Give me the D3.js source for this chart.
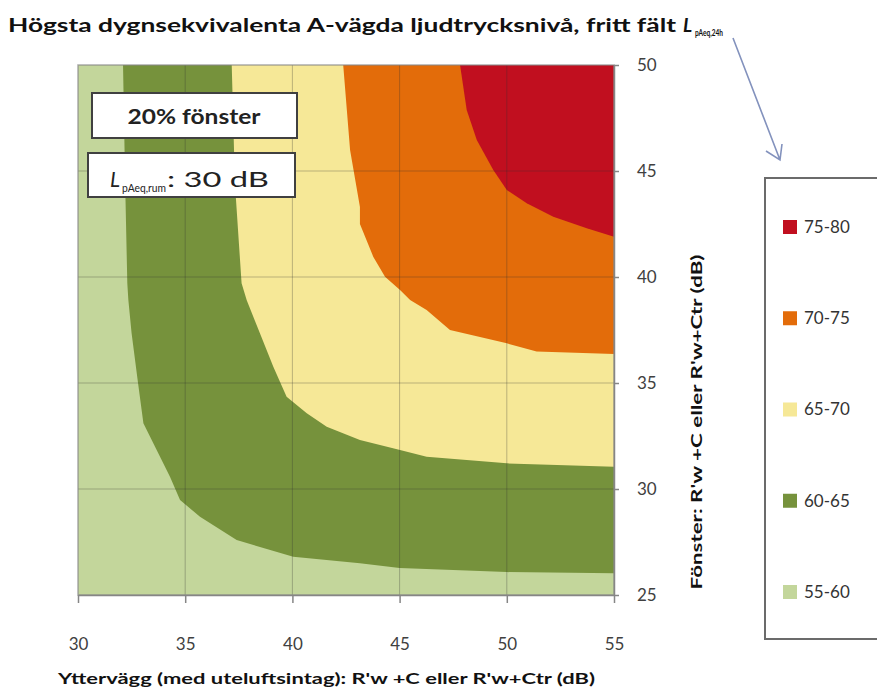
<!DOCTYPE html>
<html><head><meta charset="utf-8">
<script src="https://cdn.jsdelivr.net/npm/d3@7"></script>
<style>body{margin:0;background:#fff}svg{display:block}</style>
</head><body>
<svg id="chart" width="877" height="693"></svg>
<script>
// ---- data ----
const xTicks = [30, 35, 40, 45, 50, 55];
const yTicks = [25, 30, 35, 40, 45, 50];
const legendLabels = ["75-80", "70-75", "65-70", "60-65", "55-60"];
const legendColors = ["#c10f1f", "#e36c0a", "#f6e897", "#76923c", "#c3d69b"];
const baseColor = "#c3d69b"; // 55-60
// boundary of each level band: [x (yttervägg dB), y (fönster dB)]
const contour60 = [[32.1,50],[32.2,44.4],[32.3,39.7],[32.35,38.9],[32.5,37.35],[32.8,35],[33.05,33.1],[33.67,31.84],[34.29,30.58],[34.76,29.48],[35.69,28.69],[37.4,27.59],[40.04,26.81],[43.15,26.5],[45,26.27],[50,26.08],[55,26.03]];
const contour65 = [[37.17,50],[37.32,44.4],[37.63,39.7],[37.87,38.9],[38.49,37.34],[39.11,35.77],[39.73,34.35],[40.67,33.57],[41.6,32.94],[43.15,32.31],[45.02,31.84],[46.26,31.52],[50,31.21],[55,31.05]];
const contour70 = [[42.37,50],[42.69,45.99],[43.15,43.3],[43.15,42.5],[43.77,40.96],[44.32,40.01],[45.02,39.39],[45.49,38.92],[46.26,38.44],[47.35,37.5],[50,36.87],[51.39,36.48],[55,36.37]];
const contour75 = [[47.82,50],[48.13,47.88],[48.6,46.46],[49.37,45.05],[50,44.1],[50.93,43.48],[52.17,42.84],[53.73,42.3],[55,41.9]];
const bands = [
  {label:"60-65", color:"#76923c", pts:contour60},
  {label:"65-70", color:"#f6e897", pts:contour65},
  {label:"70-75", color:"#e36c0a", pts:contour70},
  {label:"75-80", color:"#c10f1f", pts:contour75}
];
const corner = [55, 50];

// ---- drawing ----
const svg = d3.select("#chart");
const font = "Lato, 'Open Sans', sans-serif";
const x = d3.scaleLinear().domain([30, 55]).range([78, 614]);
const y = d3.scaleLinear().domain([25, 50]).range([595, 65]);

// background band
svg.append("rect").attr("x", x(30)).attr("y", y(50))
  .attr("width", x(55) - x(30)).attr("height", y(25) - y(50)).attr("fill", baseColor);

const line = d3.line().x(d => x(d[0])).y(d => y(d[1]));
svg.append("g").selectAll("path").data(bands).join("path")
  .attr("d", d => line(d.pts.concat([corner])) + "Z")
  .attr("fill", d => d.color);

// gridlines
const grid = svg.append("g").attr("stroke", "#333").attr("stroke-opacity", 0.3).attr("stroke-width", 1);
grid.selectAll("line.v").data(xTicks.slice(1, -1)).join("line")
  .attr("x1", d => x(d)).attr("x2", d => x(d)).attr("y1", y(50)).attr("y2", y(25));
grid.selectAll("line.h").data(yTicks.slice(1, -1)).join("line")
  .attr("y1", d => y(d)).attr("y2", d => y(d)).attr("x1", x(30)).attr("x2", x(55));
svg.append("rect").attr("x", x(30)).attr("y", y(50))
  .attr("width", x(55) - x(30)).attr("height", y(25) - y(50))
  .attr("fill", "none").attr("stroke", "#888").attr("stroke-opacity", 0.7).attr("stroke-width", 1.5);

// axes
const xAxis = svg.append("g").attr("transform", `translate(0,${y(25)})`)
  .call(d3.axisBottom(x).tickValues(xTicks).tickSize(8).tickPadding(35).tickSizeOuter(0));
const yAxis = svg.append("g").attr("transform", `translate(${x(55)},0)`)
  .call(d3.axisRight(y).tickValues(yTicks).tickSize(5).tickPadding(18).tickSizeOuter(0));
[xAxis, yAxis].forEach(a => {
  a.select(".domain").attr("stroke", "#868686").attr("stroke-width", 1.5);
  a.selectAll(".tick line").attr("stroke", "#868686").attr("stroke-width", 1.5);
  a.selectAll(".tick text").attr("fill", "#404040").attr("font-family", font).attr("font-size", 17);
});

// title
svg.append("text").attr("x", 8).attr("y", 32)
  .attr("font-family", font).attr("font-weight", "bold").attr("font-size", 19).attr("fill", "#111")
  .attr("textLength", 668).attr("lengthAdjust", "spacingAndGlyphs")
  .text("Högsta dygnsekvivalenta A-vägda ljudtrycksnivå, fritt fält");
svg.append("text").attr("x", 683).attr("y", 32)
  .attr("font-family", font).attr("font-weight", "bold").attr("font-style", "italic")
  .attr("font-size", 19).attr("fill", "#111").text("L");
svg.append("text").attr("x", 695).attr("y", 36)
  .attr("font-family", font).attr("font-weight", "bold").attr("font-size", 10).attr("fill", "#111")
  .attr("textLength", 28).attr("lengthAdjust", "spacingAndGlyphs").text("pAeq,24h");

// arrow
svg.append("path").attr("d", "M733,38 L780,160 M766,151 L780,160 L782,144")
  .attr("fill", "none").attr("stroke", "#8392bd").attr("stroke-width", 1.6);

// text boxes
svg.append("rect").attr("x", 92).attr("y", 93).attr("width", 205).attr("height", 45)
  .attr("fill", "#fff").attr("stroke", "#404040").attr("stroke-width", 2);
svg.append("text").attr("x", 194).attr("y", 124).attr("text-anchor", "middle")
  .attr("font-family", font).attr("font-weight", "bold").attr("font-size", 20).attr("fill", "#222")
  .attr("textLength", 133).attr("lengthAdjust", "spacingAndGlyphs").text("20% fönster");
svg.append("rect").attr("x", 88).attr("y", 153).attr("width", 207).attr("height", 44)
  .attr("fill", "#fff").attr("stroke", "#404040").attr("stroke-width", 2);
svg.append("text").attr("x", 110).attr("y", 187)
  .attr("font-family", font).attr("font-style", "italic").attr("font-size", 21).attr("fill", "#222").text("L");
svg.append("text").attr("x", 122).attr("y", 192)
  .attr("font-family", font).attr("font-size", 12).attr("fill", "#222")
  .attr("textLength", 44).attr("lengthAdjust", "spacingAndGlyphs").text("pAeq,rum");
svg.append("text").attr("x", 167).attr("y", 187)
  .attr("font-family", font).attr("font-size", 21).attr("fill", "#222")
  .attr("textLength", 102).attr("lengthAdjust", "spacingAndGlyphs").text(": 30 dB");

// axis titles
svg.append("text").attr("x", 58).attr("y", 684)
  .attr("font-family", font).attr("font-weight", "bold").attr("font-size", 15).attr("fill", "#111")
  .attr("textLength", 537).attr("lengthAdjust", "spacingAndGlyphs")
  .text("Yttervägg (med uteluftsintag): R'w +C eller R'w+Ctr (dB)");
svg.append("text").attr("transform", "translate(702,422) rotate(-90)").attr("text-anchor", "middle")
  .attr("font-family", font).attr("font-weight", "bold").attr("font-size", 15).attr("fill", "#111")
  .attr("textLength", 335).attr("lengthAdjust", "spacingAndGlyphs")
  .text("Fönster: R'w +C eller R'w+Ctr (dB)");

// legend
svg.append("path").attr("d", "M877,178 L765,178 L765,639 L877,639")
  .attr("fill", "none").attr("stroke", "#6b6b6b").attr("stroke-width", 2);
const ly = d3.scalePoint().domain(legendLabels).range([227, 592]);
const lg = svg.append("g").selectAll("g").data(legendLabels).join("g")
  .attr("transform", d => `translate(783,${ly(d)})`);
lg.append("rect").attr("x", 0).attr("y", -7).attr("width", 14).attr("height", 14)
  .attr("fill", (d, i) => legendColors[i]);
lg.append("text").attr("x", 21).attr("y", 0).attr("dy", "0.35em")
  .attr("font-family", font).attr("font-size", 17).attr("fill", "#333").text(d => d);
</script>
</body></html>
